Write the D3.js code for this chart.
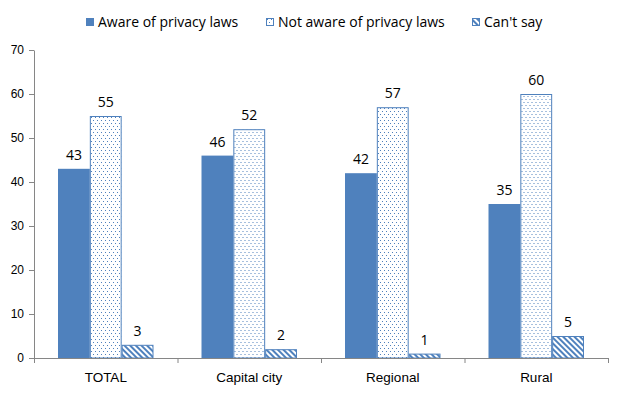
<!DOCTYPE html>
<html>
<head>
<meta charset="utf-8">
<script src="https://cdn.jsdelivr.net/npm/d3@7"></script>
<style>
  body { margin: 0; background: #fff; }
  svg { font-family: "Open Sans", "DejaVu Sans", sans-serif; }
</style>
</head>
<body>
<svg id="chart" width="623" height="397"></svg>
<script>
var categories = ['TOTAL', 'Capital city', 'Regional', 'Rural'];
var seriesNames = ['Aware of privacy laws', 'Not aware of privacy laws', "Can't say"];
var aware = [43, 46, 42, 35];
var notAware = [55, 52, 57, 60];
var cantSay = [3, 2, 1, 5];
var yTicks = [0, 10, 20, 30, 40, 50, 60, 70];

var blue = '#4F81BD',
    axisColor = '#868686';

var svg = d3.select('#chart'),
    margin = {top: 50, right: 15, bottom: 39, left: 34},
    width = 608 - margin.left,
    height = 358 - margin.top,
    g = svg.append('g').attr('transform', 'translate(' + margin.left + ',' + margin.top + ')');

// fill patterns
var defs = svg.append('defs');
var dots = defs.append('pattern')
    .attr('id', 'dots')
    .attr('patternUnits', 'userSpaceOnUse')
    .attr('width', 4).attr('height', 6);
dots.append('rect').attr('width', 4).attr('height', 6).attr('fill', '#fff');
dots.append('rect').attr('x', 1).attr('y', 1).attr('width', 1).attr('height', 1).attr('fill', blue);
dots.append('rect').attr('x', 3).attr('y', 4).attr('width', 1).attr('height', 1).attr('fill', blue);

var hatch = defs.append('pattern')
    .attr('id', 'hatch')
    .attr('patternUnits', 'userSpaceOnUse')
    .attr('width', 4).attr('height', 4)
    .attr('patternTransform', 'rotate(45)');
hatch.append('rect').attr('width', 4).attr('height', 4).attr('fill', '#fff');
hatch.append('rect').attr('width', 4).attr('height', 2).attr('fill', blue);

var fills = [blue, 'url(#dots)', 'url(#hatch)'];
var strokes = ['none', blue, blue];

var data = categories.map(function(c, i) {
  return {cat: c, values: [aware[i], notAware[i], cantSay[i]]};
});

var x0 = d3.scaleBand()
    .domain(categories)
    .range([0, width])
    .paddingInner(0)
    .paddingOuter(0);

var x1 = d3.scaleBand()
    .domain(d3.range(seriesNames.length))
    .range([24, x0.bandwidth() - 24]);

var y = d3.scaleLinear()
    .domain([0, 70])
    .range([height, 0]);

// y axis
var yAxis = g.append('g')
    .call(d3.axisLeft(y).tickValues(yTicks).tickSize(5).tickPadding(5).tickSizeOuter(0));
yAxis.select('.domain').attr('stroke', axisColor);
yAxis.selectAll('.tick line').attr('stroke', axisColor);
yAxis.selectAll('.tick text').attr('font-size', 12).attr('fill', '#000');

// bars
var groups = g.selectAll('.group')
    .data(data)
    .enter().append('g')
      .attr('class', 'group')
      .attr('transform', function(d) { return 'translate(' + x0(d.cat) + ',0)'; });

groups.selectAll('rect')
    .data(function(d) { return d.values; })
    .enter().append('rect')
      .attr('x', function(d, i) { return x1(i) + (i ? 0.5 : 0); })
      .attr('y', function(d, i) { return y(d) + (i ? 0.5 : 0); })
      .attr('width', function(d, i) { return x1.bandwidth() - (i ? 1 : 0); })
      .attr('height', function(d, i) { return y(0) - y(d) - (i ? 0.5 : 0); })
      .attr('fill', function(d, i) { return fills[i]; })
      .attr('stroke', function(d, i) { return strokes[i]; })
      .attr('stroke-width', 1);

groups.selectAll('.val')
    .data(function(d) { return d.values; })
    .enter().append('text')
      .attr('class', 'val')
      .attr('x', function(d, i) { return x1(i) + x1.bandwidth() / 2; })
      .attr('y', function(d) { return y(d) - 14; })
      .attr('dy', '0.35em')
      .attr('text-anchor', 'middle')
      .attr('font-size', 14)
      .text(function(d) { return d; });

// x axis
var xAxis = g.append('g')
    .attr('transform', 'translate(0,' + height + ')')
    .call(d3.axisBottom(x0).tickSize(0).tickPadding(14));
xAxis.select('.domain').attr('stroke', axisColor);
xAxis.selectAll('.tick text').attr('font-size', 13.5).attr('fill', '#000');
xAxis.selectAll('.sep')
    .data(d3.range(categories.length + 1))
    .enter().append('line')
      .attr('class', 'sep')
      .attr('x1', function(d) { return d * x0.bandwidth() + 0.5; })
      .attr('x2', function(d) { return d * x0.bandwidth() + 0.5; })
      .attr('y1', 0).attr('y2', 5)
      .attr('stroke', axisColor);

// legend
var legendX = [86, 266, 472];
var legend = svg.append('g')
    .selectAll('g')
    .data(seriesNames)
    .enter().append('g')
      .attr('transform', function(d, i) { return 'translate(' + legendX[i] + ',18)'; });

legend.append('rect')
    .attr('x', function(d, i) { return i ? 0.5 : 0; })
    .attr('y', function(d, i) { return i ? 0.5 : 0; })
    .attr('width', function(d, i) { return i ? 7 : 8; })
    .attr('height', function(d, i) { return i ? 7 : 8; })
    .attr('fill', function(d, i) { return fills[i]; })
    .attr('stroke', function(d, i) { return strokes[i]; });

legend.append('text')
    .attr('x', 12)
    .attr('y', 4)
    .attr('dy', '0.35em')
    .attr('font-size', 14)
    .text(function(d) { return d; });
</script>
</body>
</html>
